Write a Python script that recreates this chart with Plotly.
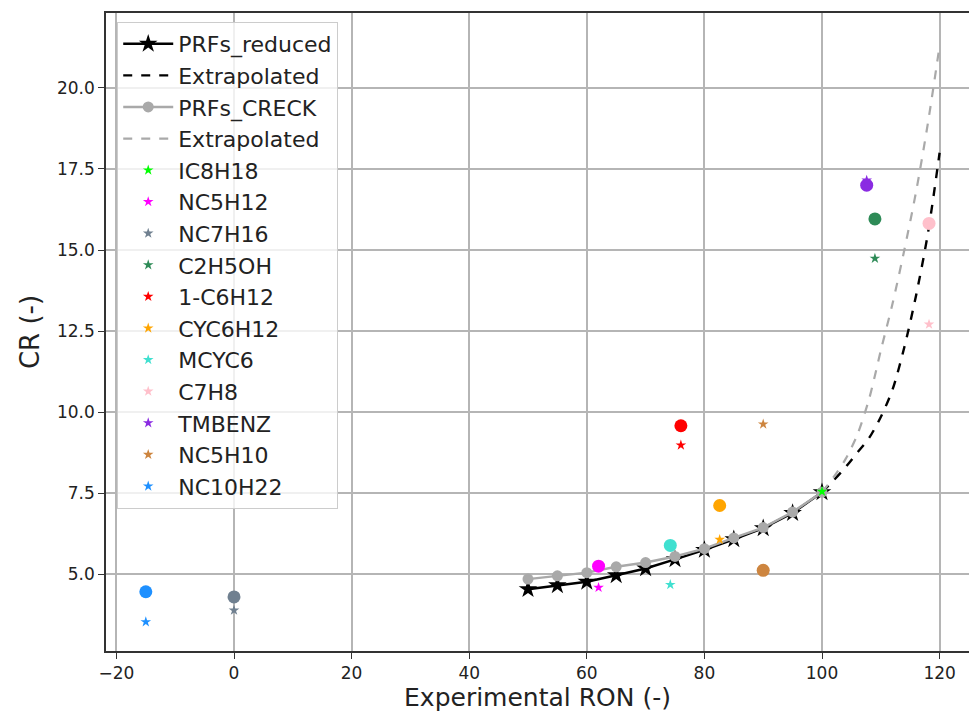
import plotly.graph_objects as go

# PRF blends: RON of the primary reference fuel and computed critical compression ratio
prf_ron = [50, 55, 60, 65, 70, 75, 80, 85, 90, 95, 100]
prf_cr_reduced = [4.54, 4.66, 4.77, 4.97, 5.18, 5.46, 5.75, 6.08, 6.42, 6.89, 7.53]
prf_cr_creck = [4.85, 4.95, 5.05, 5.23, 5.36, 5.55, 5.79, 6.12, 6.44, 6.92, 7.53]

# Extrapolation beyond RON 100
ext_ron = [100, 102, 104, 106, 108, 110, 112, 114, 116, 118, 120]
ext_cr_reduced = [7.53, 7.9, 8.3, 8.75, 9.2, 9.85, 10.7, 12.0, 13.6, 15.5, 18.0]
ext_cr_creck = [7.53, 8.0, 8.55, 9.3, 10.4, 11.9, 13.35, 15.0, 16.8, 18.9, 21.3]

# Pure components
species = ["IC8H18", "NC5H12", "NC7H16", "C2H5OH", "1-C6H12", "CYC6H12",
           "MCYC6", "C7H8", "TMBENZ", "NC5H10", "NC10H22"]
species_ron = [100, 62, 0, 109, 76, 82.6, 74.2, 118.2, 107.6, 90, -15]
species_cr_reduced = [7.55, 4.59, 3.89, 14.74, 8.98, 6.07, 4.68, 12.71, 17.15, 9.63, 3.53]
species_cr_creck = [None, 5.25, 4.30, 15.96, 9.58, 7.12, 5.89, 15.82, 17.0, 5.12, 4.46]
species_colors = ["#00ff00", "#ff00ff", "#708090", "#2e8b57", "#ff0000", "#ffa500",
                  "#40e0d0", "#ffc0cb", "#8a2be2", "#cd853f", "#1e90ff"]

x_ticks = [-20, 0, 20, 40, 60, 80, 100, 120]
y_ticks = [5.0, 7.5, 10.0, 12.5, 15.0, 17.5, 20.0]

GRAY = "#a9a9a9"

fig = go.Figure()

fig.add_trace(go.Scatter(
    x=prf_ron, y=prf_cr_reduced, mode="lines+markers", name="PRFs_reduced",
    line=dict(color="black", width=2.5),
    marker=dict(symbol="star", size=14, color="black"),
))
fig.add_trace(go.Scatter(
    x=ext_ron, y=ext_cr_reduced, mode="lines", name="Extrapolated",
    line=dict(color="black", width=2.4, dash="dash", shape="spline", smoothing=0.8),
))
fig.add_trace(go.Scatter(
    x=prf_ron, y=prf_cr_creck, mode="lines+markers", name="PRFs_CRECK",
    line=dict(color=GRAY, width=2.5),
    marker=dict(symbol="circle", size=11, color=GRAY),
))
fig.add_trace(go.Scatter(
    x=ext_ron, y=ext_cr_creck, mode="lines", name="Extrapolated",
    line=dict(color=GRAY, width=2.2, dash="dash", shape="spline", smoothing=0.8),
))

# CRECK predictions for the pure components (circles, no legend entry)
for ron, cr, col in zip(species_ron, species_cr_creck, species_colors):
    if cr is None:
        continue
    fig.add_trace(go.Scatter(
        x=[ron], y=[cr], mode="markers", showlegend=False,
        marker=dict(symbol="circle", size=13, color=col),
    ))

# Reduced-mechanism predictions for the pure components (stars)
for name, ron, cr, col in zip(species, species_ron, species_cr_reduced, species_colors):
    fig.add_trace(go.Scatter(
        x=[ron], y=[cr], mode="markers", name=name,
        marker=dict(symbol="star", size=8, color=col),
    ))

axis_common = dict(
    showgrid=True, gridcolor="#b5b5b5", gridwidth=1.5,
    showline=True, linecolor="#333333", linewidth=1.6,
    ticks="outside", ticklen=6, tickwidth=1.4, tickcolor="#333333",
    zeroline=False,
    tickfont=dict(family="DejaVu Sans", size=17, color="#222222"),
)

fig.update_xaxes(
    **axis_common, range=[-21.77, 125.0], tickvals=x_ticks, mirror=True,
    title=dict(text="Experimental RON (-)", font=dict(family="DejaVu Sans", size=25, color="#222222"), standoff=0),
)
fig.update_yaxes(
    **axis_common, range=[2.633, 22.31], tickvals=y_ticks, tickformat=".1f",
    title=dict(text="CR (-)", font=dict(family="DejaVu Sans", size=26, color="#222222"), standoff=10),
)

fig.update_layout(
    width=969, height=716,
    margin=dict(l=106, r=0, t=13, b=65),
    plot_bgcolor="white", paper_bgcolor="white",
    font=dict(family="DejaVu Sans", color="#222222"),
    legend=dict(
        x=0.013, y=0.986, xanchor="left", yanchor="top",
        bgcolor="rgba(255,255,255,0.8)", bordercolor="#cccccc", borderwidth=1,
        font=dict(family="DejaVu Sans", size=22, color="#222222"),
        itemwidth=50, tracegroupgap=0,
    ),
)

fig.write_html("out.html")
